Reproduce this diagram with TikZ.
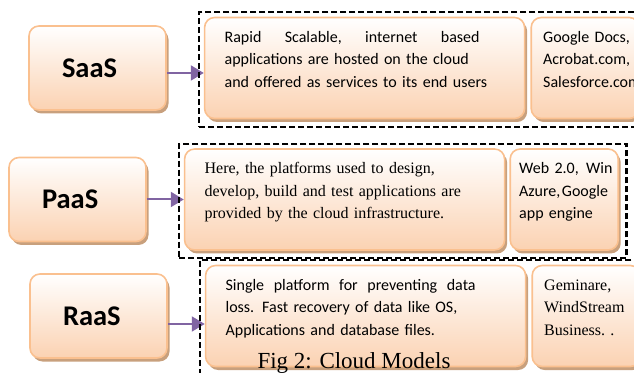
\documentclass[tikz,border=0pt]{standalone}
\usepackage{fontspec}
\setmainfont{Carlito}
\newfontfamily\timesfont{Liberation Serif}
\usepackage{tikz}
\usetikzlibrary{shapes,arrows.meta,shadows,fit,positioning,calc}
\definecolor{boxline}{RGB}{250,192,143}
\definecolor{boxtop}{RGB}{255,255,255}
\definecolor{boxbottom}{RGB}{251,210,178}
\definecolor{boxshadow}{RGB}{200,160,125}
\definecolor{flowpurple}{RGB}{128,100,162}
\newcommand\Bodysize{\fontsize{16}{22.5}\selectfont\hyphenpenalty=10000\relax}
\tikzset{rbox/.style={
    draw=boxline,
    line width=1.6pt,
    rounded corners=10pt,
    top color=boxtop,
    bottom color=boxbottom,
    drop shadow={shadow xshift=2.5pt,shadow yshift=-3.5pt,fill=boxshadow,opacity=1},
  }}
\begin{document}
\begin{tikzpicture}[x=1pt,y=1pt,
        model/.style={rbox, text width=71pt, inner xsep=33pt, minimum height=84pt,
          align=left, font=\fontsize{28.5}{30}\selectfont\bfseries},
        descr/.style={rbox, text width=280pt, inner xsep=20pt, inner ysep=9pt,
          text height=16pt, text depth=67pt, align=left, font=\Bodysize},
        example/.style={rbox, text width=84pt, inner xsep=12pt, inner ysep=9pt,
          text height=16pt, text depth=67pt, align=left, font=\Bodysize},
        frame/.style={draw, line width=2.2pt, dash pattern=on 6pt off 3pt, inner sep=4.5pt},
        flow/.style={draw=flowpurple, line width=2pt, -{Triangle[length=13pt,width=15pt]}}
      ]
        \useasboundingbox (0,0) rectangle (634,372);

        % Service models
        \node (saas) [model] at (97.5,304) {SaaS};
        \node (paas) [model] at (77.5,172.5) {PaaS};
        \node (raas) [model] at (98.5,56) {RaaS};

        % Descriptions
        \node (desc1) [descr, right=37pt of saas] {
          \makebox[255pt][s]{Rapid\hfill Scalable,\hfill internet\hfill based}\\
          applications are hosted on the cloud\\
          and offered as services to its end users};
        \node (desc2) [descr, right=37pt of paas, font=\timesfont\Bodysize] {
          Here, the platforms used to design,\\
          develop, build and test applications are\\
          provided by the cloud infrastructure.};
        \node (desc3) [descr, right=37pt of raas] {
          \makebox[250pt][s]{Single\hfill platform\hfill for\hfill preventing\hfill data}\\
          loss. Fast recovery of data like OS,\\
          Applications and database files.};

        % Examples
        \node (ex1) [example, right=5pt of desc1] {
          Google~Docs,\\
          Acrobat.com,\\
          Salesforce.com};
        \node (ex2) [example, right=4pt of desc2, inner xsep=9pt, text width=90pt] {
          Web~2.0,~\kern2pt Win\\
          Azure,\kern1.5pt Google\\
          app~engine};
        \node (ex3) [example, right=5pt of desc3, font=\timesfont\Bodysize] {
          Geminare,\\
          WindStream\\
          Business.~.};

        \draw [flow] ($(saas.east)+(0,-5pt)$) -- ($(saas.east -| desc1.west)+(0,-5pt)$);
        \draw [flow] (paas.east) -- (paas.east -| desc2.west);
        \draw [flow] ($(raas.east)+(0,-8pt)$) -- ($(raas.east -| desc3.west)+(0,-8pt)$);

        % Dashed groups (corners pushed out past the shadows)
        \coordinate (corner1) at ($(ex1.south east)+(3pt,-3pt)$);
        \coordinate (corner2) at ($(ex2.south east)+(3pt,-3pt)$);
        \coordinate (corner3) at ($(ex3.south east)+(3pt,-8pt)$);
        \node (cloud1) [frame, fit=(desc1) (ex1) (corner1)] {};
        \node (cloud2) [frame, fit=(desc2) (ex2) (corner2)] {};
        \node (cloud3) [frame, fit=(desc3) (ex3) (corner3)] {};

        \node (caption) [anchor=base, font=\timesfont\fontsize{23}{26}\selectfont] at (354,4) {Fig 2: Cloud Models};

      \end{tikzpicture}
\end{document}
